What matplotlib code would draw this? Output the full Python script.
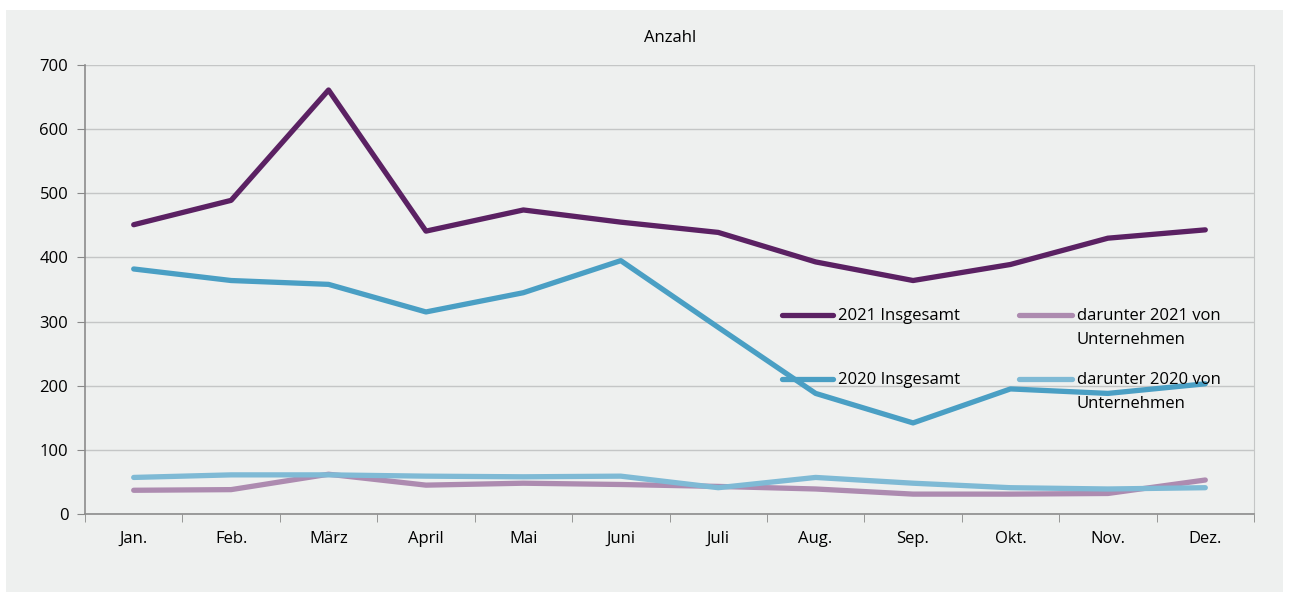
import matplotlib
matplotlib.use("Agg")
import matplotlib.pyplot as plt
from matplotlib.lines import Line2D
from matplotlib.patches import Rectangle
import numpy as np

plt.rcParams['font.family'] = ['Open Sans', 'DejaVu Sans']

monate = ["Jan.", "Feb.", "März", "April", "Mai", "Juni",
          "Juli", "Aug.", "Sep.", "Okt.", "Nov.", "Dez."]
gesamt_2021 = [451, 489, 661, 441, 474, 455, 439, 393, 364, 389, 430, 443]
gesamt_2020 = [382, 364, 358, 315, 345, 395, 291, 188, 142, 195, 188, 203]
unt_2021 = [37, 38, 62, 45, 48, 46, 43, 39, 31, 31, 32, 53]
unt_2020 = [57, 61, 61, 59, 58, 59, 41, 57, 48, 41, 39, 41]

c_g21 = "#5b2163"
c_g20 = "#4a9fc4"
c_u21 = "#ad8bb0"
c_u20 = "#7fbad5"

W, H = 1289, 593
fs = 12
fig = plt.figure(figsize=(W / 100, H / 100), dpi=100, facecolor="white")
fig.add_artist(Rectangle((6 / W, 1 - 592 / H), (1283 - 6) / W, (592 - 10) / H,
                         transform=fig.transFigure, facecolor="#eef0ef",
                         edgecolor="none", zorder=-10))

ax = fig.add_axes([85 / W, 1 - 514 / H, (1254 - 85) / W, (514 - 65) / H])
ax.set_facecolor("none")

x = np.arange(len(monate))
lw = 3.8
ax.plot(x, unt_2021, color=c_u21, lw=lw, solid_capstyle="round", zorder=3)
ax.plot(x, unt_2020, color=c_u20, lw=lw, solid_capstyle="round", zorder=4)
ax.plot(x, gesamt_2020, color=c_g20, lw=lw, solid_capstyle="round", zorder=5)
ax.plot(x, gesamt_2021, color=c_g21, lw=lw, solid_capstyle="round", zorder=6)

ax.set_xlim(-0.5, len(monate) - 0.5)
ax.set_ylim(0, 700)
ax.set_yticks(range(0, 701, 100))
ax.yaxis.grid(True, color="#c4c6c6", lw=1)
ax.set_axisbelow(True)

ax.set_xticks(x)
ax.set_xticklabels(monate, fontsize=fs)
ax.set_xticks(np.arange(-0.5, len(monate), 1), minor=True)
ax.tick_params(axis="x", which="major", length=0, pad=12)
ax.tick_params(axis="x", which="minor", length=6, color="#888888", direction="out")
ax.tick_params(axis="y", length=6, color="#888888", labelsize=fs, pad=6)

for s in ["left", "bottom"]:
    ax.spines[s].set_color("#8c8c8c")
    ax.spines[s].set_linewidth(1.2)
ax.spines["right"].set_color("#c4c6c6")
ax.spines["top"].set_visible(False)

fig.text(670 / W, 1 - 38 / H, "Anzahl", ha="center", va="center", fontsize=fs)

# legend drawn by hand (2x2 layout)
eintraege = [
    (782, 833, 838, 315, c_g21, "2021 Insgesamt"),
    (1019, 1072, 1077, 315, c_u21, "darunter 2021 von\nUnternehmen"),
    (782, 833, 838, 379, c_g20, "2020 Insgesamt"),
    (1019, 1072, 1077, 379, c_u20, "darunter 2020 von\nUnternehmen"),
]
for x0, x1, tx, ty, col, lab in eintraege:
    fig.add_artist(Line2D([x0 / W, x1 / W], [1 - ty / H, 1 - ty / H],
                          transform=fig.transFigure, color=col, lw=lw,
                          solid_capstyle="round", zorder=8))
    fig.text(tx / W, 1 - (ty - 7) / H, lab, ha="left", va="top",
             fontsize=fs, linespacing=1.7, zorder=9)

fig.savefig("out.png", dpi=100, facecolor="white")
